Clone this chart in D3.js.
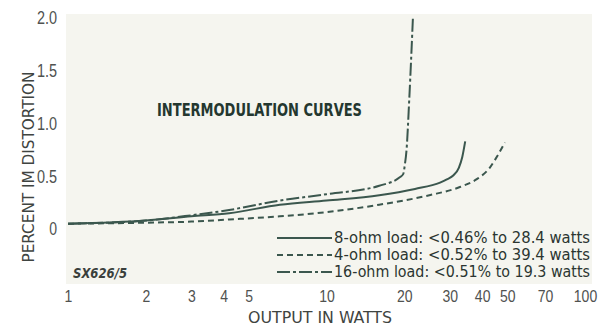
<!DOCTYPE html>
<html lang="en">
<head>
    <meta charset="UTF-8">
    <title>Intermodulation Curves</title>
    <script src="https://d3js.org/d3.v7.min.js"></script>
    <style>
        body {
            margin: 0;
            background: #ffffff;
            font-family: "DejaVu Sans Condensed", "DejaVu Sans", sans-serif;
        }

        .tick text {
            font-size: 17px;
            fill: #505250;
        }

        .axis-title {
            font-size: 16px;
            fill: #3f4441;
        }

        .legend text {
            font-size: 15px;
            fill: #2b3531;
        }
    </style>
</head>
<body>
    <div id="chart"></div>
    <script>
        // Values: [watts, percent IM]
        const ohm8 = [[1, 0.05], [2, 0.08], [3, 0.12], [4.2, 0.15], [6.6, 0.23], [10, 0.27], [16, 0.32],
            [22, 0.38], [27.5, 0.44], [29.2, 0.47], [31, 0.51], [32.5, 0.58], [33.5, 0.68], [34.4, 0.83]];
        const ohm4 = [[1, 0.05], [2, 0.06], [3, 0.07], [4.2, 0.09], [6.6, 0.12], [10, 0.16], [16, 0.23],
            [25, 0.32], [33, 0.40], [38, 0.47], [42.8, 0.58], [46, 0.70], [49, 0.82]];
        const ohm16 = [[1, 0.05], [2, 0.08], [3, 0.13], [4.2, 0.18], [6.6, 0.27], [10, 0.33], [16, 0.41],
            [19.2, 0.49], [19.8, 0.52], [20.1, 0.61], [20.4, 0.75], [20.9, 1.23], [21.6, 2.01]];

        const xTicks = [1, 2, 3, 4, 5, 10, 20, 30, 40, 50, 70, 100];
        const yTicks = [0, 0.5, 1, 1.5, 2];
        const yTickLabels = ["0", "0.5", "1.0", "1.5", "2.0"];

        const legendLabels = [
            "8-ohm load: <0.46% to 28.4 watts",
            "4-ohm load: <0.52% to 39.4 watts",
            "16-ohm load: <0.51% to 19.3 watts"
        ];

        const W = 603, H = 328;
        const ink = "#3b574e";

        const svg = d3.select("#chart").append("svg")
            .attr("width", W)
            .attr("height", H);

        // plot paper
        svg.append("rect")
            .attr("x", 66).attr("y", 14)
            .attr("width", 526).attr("height", 270)
            .attr("fill", "#f5f5ef");

        const x = d3.scaleLog().domain([1, 100]).range([68, 585]);
        const y = d3.scaleLinear().domain([0, 2]).range([229, 18]);

        // narrow look for the tick digits
        function squeeze(sel) {
            sel.each(function() {
                const s = this.textContent;
                const dots = (s.match(/\./g) || []).length;
                d3.select(this)
                    .attr("textLength", (s.length - dots) * 7.8 + dots * 4.5)
                    .attr("lengthAdjust", "spacingAndGlyphs");
            });
        }

        // Axes (labels only, no lines)
        const xAxis = svg.append("g")
            .attr("transform", "translate(0,290)")
            .call(d3.axisBottom(x).tickValues(xTicks).tickFormat(d3.format("d")).tickSize(0).tickPadding(0));
        xAxis.select(".domain").remove();

        const yAxis = svg.append("g")
            .attr("transform", "translate(68,0)")
            .call(d3.axisLeft(y).tickValues(yTicks).tickFormat((d, i) => yTickLabels[i]).tickSize(0).tickPadding(11));
        yAxis.select(".domain").remove();

        svg.selectAll(".tick text").attr("font-family", null).attr("font-size", null);
        yAxis.selectAll(".tick text").style("font-size", "18px");
        squeeze(svg.selectAll(".tick text"));

        // Curves
        const line = d3.line()
            .x(d => x(d[0]))
            .y(d => y(d[1]))
            .curve(d3.curveMonotoneX);

        const series = [
            { data: ohm8, dash: null },
            { data: ohm4, dash: "6,4" },
            { data: ohm16, dash: "13,3,3,3" }
        ];

        svg.selectAll(".curve")
            .data(series)
            .enter()
            .append("path")
            .attr("class", "curve")
            .attr("d", d => line(d.data))
            .attr("fill", "none")
            .attr("stroke", ink)
            .attr("stroke-width", 2)
            .attr("stroke-dasharray", d => d.dash);

        // Titles
        svg.append("text")
            .attr("x", 157).attr("y", 116)
            .attr("textLength", 205)
            .attr("lengthAdjust", "spacingAndGlyphs")
            .style("font-size", "17px")
            .style("font-weight", "bold")
            .style("fill", "#24372f")
            .text("INTERMODULATION CURVES");

        svg.append("text")
            .attr("x", 73).attr("y", 278)
            .attr("textLength", 54)
            .attr("lengthAdjust", "spacingAndGlyphs")
            .style("font-size", "14px")
            .style("font-weight", "bold")
            .style("font-style", "italic")
            .style("fill", "#3a3f3c")
            .text("SX626/5");

        svg.append("text")
            .attr("class", "axis-title")
            .attr("x", 320).attr("y", 323)
            .attr("text-anchor", "middle")
            .attr("textLength", 144)
            .attr("lengthAdjust", "spacingAndGlyphs")
            .text("OUTPUT IN WATTS");

        svg.append("text")
            .attr("class", "axis-title")
            .attr("transform", "translate(34,167) rotate(-90)")
            .attr("text-anchor", "middle")
            .attr("textLength", 191)
            .attr("lengthAdjust", "spacingAndGlyphs")
            .text("PERCENT IM DISTORTION");

        // Legend
        const legend = svg.append("g").attr("class", "legend");
        const rows = legend.selectAll("g")
            .data(series)
            .enter()
            .append("g")
            .attr("transform", (d, i) => `translate(0,${238 + i * 17})`);

        rows.append("line")
            .attr("x1", 277).attr("x2", 332)
            .attr("stroke", ink)
            .attr("stroke-width", 2)
            .attr("stroke-dasharray", d => d.dash);

        rows.append("text")
            .attr("x", 334)
            .attr("dy", "0.35em")
            .attr("textLength", 256)
            .attr("lengthAdjust", "spacingAndGlyphs")
            .text((d, i) => legendLabels[i]);
    </script>
</body>
</html>
